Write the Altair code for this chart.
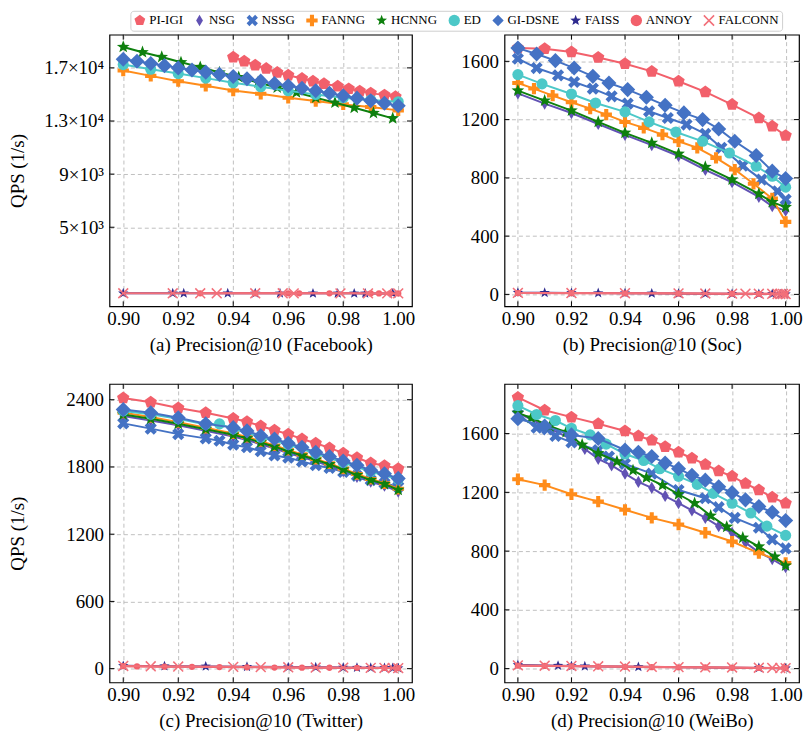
import math
import altair as alt
import pandas as pd

# ---------------- legend / styling ----------------
METHODS = ["PI-IGI", "NSG", "NSSG", "FANNG", "HCNNG", "ED", "GI-DSNE", "FAISS", "ANNOY", "FALCONN"]
COLORS = ["#F2606B", "#6152B4", "#4472C4", "#FF8C1A", "#0E800E", "#4CC8C8", "#4472C4", "#2E2A8E", "#F2606B", "#F2707A"]

XTICKS = [0.90, 0.92, 0.94, 0.96, 0.98, 1.00]

# ---------------- (a) Facebook ----------------
FB_PIIGI_P = [0.940, 0.944, 0.948, 0.952, 0.956, 0.960, 0.965, 0.969, 0.973, 0.978, 0.982, 0.986, 0.990, 0.995, 0.999]
FB_PIIGI_Q = [17800, 17500, 17200, 16950, 16650, 16450, 16200, 16000, 15800, 15620, 15420, 15250, 15100, 14950, 14820]
FB_GIDSNE_P = [0.900, 0.905, 0.910, 0.915, 0.920, 0.925, 0.930, 0.935, 0.940, 0.945, 0.950, 0.955, 0.960, 0.965, 0.970, 0.975, 0.980, 0.985, 0.990, 0.995, 1.000]
FB_GIDSNE_Q = [17650, 17500, 17330, 17170, 17000, 16840, 16680, 16510, 16350, 16180, 16000, 15830, 15650, 15470, 15280, 15090, 14900, 14720, 14530, 14340, 14150]
FB_ED_P = [0.90, 0.91, 0.92, 0.93, 0.94, 0.95, 0.96, 0.97, 0.98, 0.99, 1.00]
FB_ED_Q = [17250, 16900, 16570, 16230, 15880, 15580, 15280, 15000, 14750, 14580, 14450]
FB_FANNG_P = [0.90, 0.91, 0.92, 0.93, 0.94, 0.95, 0.96, 0.97, 0.98, 0.99, 1.00]
FB_FANNG_Q = [16800, 16400, 16000, 15650, 15300, 15050, 14750, 14500, 14250, 14050, 13800]
FB_HCNNG_P = [0.900, 0.907, 0.914, 0.921, 0.928, 0.935, 0.942, 0.949, 0.956, 0.963, 0.970, 0.977, 0.984, 0.991, 0.998]
FB_HCNNG_Q = [18575, 18180, 17820, 17420, 17060, 16650, 16300, 15900, 15520, 15150, 14760, 14380, 14000, 13600, 13200]
FB_FAISS_P = [0.900, 0.918, 0.922, 0.938, 0.948, 0.957, 0.969, 0.978, 0.984, 0.988, 0.998]
FB_FAISS_Q = [30, 28, 28, 26, 25, 24, 22, 21, 20, 19, 18]
FB_ANNOY_P = [0.928, 0.948, 0.960, 0.964, 0.975, 0.990, 0.993, 0.997, 1.000]
FB_ANNOY_Q = [27, 25, 24, 23, 22, 20, 19, 18, 18]
FB_FALCONN_P = [0.900, 0.918, 0.928, 0.934, 0.948, 0.958, 0.962, 0.979, 0.989, 0.996, 1.000]
FB_FALCONN_Q = [30, 28, 27, 26, 25, 24, 23, 21, 20, 19, 18]

# ---------------- (b) Soc ----------------
SOC_PIIGI_P = [0.90, 0.91, 0.92, 0.93, 0.94, 0.95, 0.96, 0.97, 0.98, 0.99, 0.995, 1.00]
SOC_PIIGI_Q = [1691, 1687, 1664, 1627, 1584, 1531, 1463, 1390, 1303, 1211, 1154, 1090]
SOC_NSG_P = [0.90, 0.91, 0.92, 0.93, 0.94, 0.95, 0.96, 0.97, 0.98, 0.99, 0.995, 1.00]
SOC_NSG_Q = [1380, 1310, 1245, 1170, 1095, 1025, 950, 855, 770, 670, 605, 575]
SOC_NSSG_P = [0.900, 0.907, 0.915, 0.921, 0.928, 0.935, 0.941, 0.949, 0.956, 0.963, 0.970, 0.976, 0.984, 0.991, 0.997, 1.000]
SOC_NSSG_Q = [1618, 1554, 1504, 1458, 1413, 1360, 1310, 1257, 1211, 1166, 1102, 1006, 884, 788, 708, 651]
SOC_FANNG_P = [0.900, 0.906, 0.913, 0.920, 0.927, 0.933, 0.940, 0.947, 0.954, 0.960, 0.967, 0.974, 0.981, 0.988, 0.995, 1.000]
SOC_FANNG_Q = [1451, 1413, 1365, 1319, 1275, 1234, 1184, 1143, 1097, 1051, 1006, 937, 857, 759, 658, 498]
SOC_HCNNG_P = [0.90, 0.91, 0.92, 0.93, 0.94, 0.95, 0.96, 0.97, 0.98, 0.99, 0.995, 1.00]
SOC_HCNNG_Q = [1399, 1330, 1262, 1184, 1109, 1040, 965, 875, 788, 690, 633, 599]
SOC_ED_P = [0.900, 0.909, 0.920, 0.929, 0.940, 0.949, 0.959, 0.969, 0.979, 0.989, 0.995, 1.000]
SOC_ED_Q = [1509, 1445, 1376, 1314, 1253, 1184, 1115, 1051, 971, 880, 811, 736]
SOC_GIDSNE_P = [0.900, 0.907, 0.914, 0.921, 0.928, 0.934, 0.941, 0.948, 0.955, 0.962, 0.969, 0.975, 0.981, 0.989, 0.995, 1.000]
SOC_GIDSNE_Q = [1691, 1650, 1605, 1554, 1497, 1451, 1406, 1353, 1298, 1246, 1200, 1136, 1051, 953, 846, 795]
SOC_FAISS_P = [0.90, 0.91, 0.92, 0.93, 0.94, 0.95, 0.96, 0.97, 0.98, 0.99, 0.995, 0.998, 1.00]
SOC_FAISS_Q = [12, 11, 10, 9, 8, 7, 6, 5, 4, 3, 3, 2, 2]
SOC_ANNOY_P = [0.90, 0.92, 0.94, 0.96, 0.98, 0.99, 1.00]
SOC_ANNOY_Q = [9, 8, 7, 6, 5, 4, 3]
SOC_FALCONN_P = [0.90, 0.92, 0.94, 0.96, 0.97, 0.98, 0.985, 0.99, 0.995, 0.997, 0.998, 0.999, 1.00]
SOC_FALCONN_Q = [10, 9, 8, 7, 6, 5, 5, 4, 4, 3, 3, 3, 2]

# ---------------- (c) Twitter ----------------
TW_P17 = [0.90, 0.91, 0.92, 0.93, 0.94, 0.945, 0.95, 0.955, 0.96, 0.965, 0.97, 0.975, 0.98, 0.985, 0.99, 0.995, 1.00]
TW_PIIGI_Q = [2415, 2377, 2327, 2283, 2233, 2204, 2166, 2128, 2093, 2049, 2011, 1970, 1923, 1882, 1835, 1810, 1785]
TW_NSG_Q = [2255, 2215, 2172, 2122, 2072, 2040, 2003, 1965, 1925, 1888, 1850, 1808, 1762, 1712, 1668, 1633, 1580]
TW_NSSG_P = [0.90, 0.91, 0.92, 0.93, 0.935, 0.94, 0.945, 0.95, 0.955, 0.96, 0.965, 0.97, 0.975, 0.98, 0.985, 0.99, 0.995, 1.00]
TW_NSSG_Q = [2189, 2142, 2093, 2055, 2034, 1999, 1976, 1940, 1902, 1882, 1850, 1815, 1791, 1756, 1721, 1683, 1654, 1624]
TW_FANNG_Q = [2285, 2245, 2200, 2150, 2100, 2068, 2030, 1992, 1952, 1912, 1872, 1832, 1785, 1737, 1693, 1655, 1605]
TW_HCNNG_Q = [2268, 2230, 2186, 2137, 2087, 2055, 2019, 1981, 1940, 1902, 1864, 1823, 1777, 1727, 1683, 1648, 1595]
TW_ED_P = [0.90, 0.91, 0.92, 0.93, 0.935, 0.94, 0.95, 0.96, 0.97, 0.98, 0.99, 1.00]
TW_ED_Q = [2300, 2270, 2230, 2180, 2185, 2140, 2065, 2000, 1920, 1840, 1760, 1690]
TW_GIDSNE_Q = [2312, 2283, 2239, 2186, 2151, 2122, 2078, 2049, 2011, 1976, 1932, 1894, 1853, 1815, 1771, 1740, 1698]
TW_FAISS_P = [0.90, 0.915, 0.93, 0.945, 0.96, 0.97, 0.98, 0.985, 0.99, 0.995, 0.998, 1.00]
TW_FAISS_Q = [25, 22, 20, 17, 14, 12, 10, 9, 8, 7, 6, 5]
TW_ANNOY_P = [0.90, 0.905, 0.915, 0.925, 0.935, 0.945, 0.955, 0.965, 0.975, 0.985, 0.995, 1.00]
TW_ANNOY_Q = [22, 20, 18, 16, 14, 12, 10, 9, 8, 7, 6, 5]
TW_FALCONN_P = [0.90, 0.91, 0.92, 0.94, 0.95, 0.96, 0.97, 0.98, 0.99, 0.995, 0.998, 1.00]
TW_FALCONN_Q = [24, 21, 19, 16, 14, 12, 10, 9, 7, 6, 5, 5]

# ---------------- (d) WeiBo ----------------
WB_PIIGI_P = [0.90, 0.91, 0.92, 0.93, 0.94, 0.945, 0.95, 0.955, 0.96, 0.965, 0.97, 0.975, 0.98, 0.985, 0.99, 0.995, 1.00]
WB_PIIGI_Q = [1846, 1759, 1712, 1667, 1618, 1584, 1555, 1511, 1473, 1432, 1390, 1345, 1309, 1260, 1216, 1166, 1126]
WB_NSG_P = [0.900, 0.910, 0.920, 0.925, 0.930, 0.935, 0.940, 0.945, 0.950, 0.955, 0.960, 0.965, 0.970, 0.975, 0.980, 0.985, 0.990, 0.995, 1.000]
WB_NSG_Q = [1741, 1651, 1562, 1495, 1428, 1383, 1327, 1271, 1231, 1175, 1126, 1077, 1026, 970, 925, 858, 791, 746, 690]
WB_NSSG_P = [0.900, 0.907, 0.911, 0.914, 0.920, 0.930, 0.934, 0.940, 0.950, 0.960, 0.970, 0.975, 0.981, 0.990, 0.995, 1.000]
WB_NSSG_Q = [1730, 1640, 1629, 1584, 1540, 1488, 1444, 1394, 1327, 1216, 1160, 1099, 1026, 959, 880, 818]
WB_FANNG_P = [0.90, 0.91, 0.92, 0.93, 0.94, 0.95, 0.96, 0.97, 0.98, 0.99, 1.00]
WB_FANNG_Q = [1289, 1249, 1187, 1137, 1081, 1026, 981, 925, 865, 786, 719]
WB_HCNNG_P = [0.900, 0.905, 0.912, 0.918, 0.924, 0.930, 0.937, 0.943, 0.948, 0.954, 0.960, 0.966, 0.972, 0.978, 0.984, 0.990, 0.996, 1.000]
WB_HCNNG_Q = [1741, 1707, 1650, 1610, 1524, 1466, 1410, 1350, 1300, 1249, 1187, 1126, 1041, 965, 891, 831, 762, 701]
WB_ED_P = [0.900, 0.907, 0.914, 0.920, 0.927, 0.933, 0.940, 0.947, 0.953, 0.960, 0.967, 0.973, 0.980, 0.987, 0.993, 1.000]
WB_ED_Q = [1790, 1730, 1689, 1636, 1591, 1528, 1461, 1417, 1361, 1309, 1254, 1193, 1126, 1059, 970, 907]
WB_GIDSNE_P = [0.900, 0.910, 0.920, 0.930, 0.940, 0.945, 0.950, 0.955, 0.960, 0.965, 0.970, 0.975, 0.980, 0.985, 0.990, 0.995, 1.000]
WB_GIDSNE_Q = [1701, 1651, 1591, 1566, 1488, 1473, 1444, 1399, 1361, 1316, 1283, 1238, 1198, 1149, 1104, 1064, 1008]
WB_FAISS_P = [0.90, 0.915, 0.92, 0.925, 0.945, 0.99, 1.00]
WB_FAISS_Q = [25, 20, 18, 16, 12, 5, 3]
WB_ANNOY_P = [0.90, 0.91, 0.92, 0.93, 0.94, 0.95, 0.96, 0.97, 0.98, 0.99, 1.00]
WB_ANNOY_Q = [20, 18, 16, 14, 12, 10, 9, 8, 6, 5, 3]
WB_FALCONN_P = [0.90, 0.91, 0.92, 0.93, 0.94, 0.95, 0.96, 0.97, 0.98, 0.99, 0.995, 0.998, 1.00]
WB_FALCONN_Q = [22, 20, 18, 16, 14, 12, 10, 9, 8, 6, 5, 4, 3]

PANEL_A = {"PI-IGI": (FB_PIIGI_P, FB_PIIGI_Q), "FANNG": (FB_FANNG_P, FB_FANNG_Q),
           "HCNNG": (FB_HCNNG_P, FB_HCNNG_Q), "ED": (FB_ED_P, FB_ED_Q),
           "GI-DSNE": (FB_GIDSNE_P, FB_GIDSNE_Q), "FAISS": (FB_FAISS_P, FB_FAISS_Q),
           "ANNOY": (FB_ANNOY_P, FB_ANNOY_Q), "FALCONN": (FB_FALCONN_P, FB_FALCONN_Q)}
PANEL_B = {"PI-IGI": (SOC_PIIGI_P, SOC_PIIGI_Q), "NSG": (SOC_NSG_P, SOC_NSG_Q),
           "NSSG": (SOC_NSSG_P, SOC_NSSG_Q), "FANNG": (SOC_FANNG_P, SOC_FANNG_Q),
           "HCNNG": (SOC_HCNNG_P, SOC_HCNNG_Q), "ED": (SOC_ED_P, SOC_ED_Q),
           "GI-DSNE": (SOC_GIDSNE_P, SOC_GIDSNE_Q), "FAISS": (SOC_FAISS_P, SOC_FAISS_Q),
           "ANNOY": (SOC_ANNOY_P, SOC_ANNOY_Q), "FALCONN": (SOC_FALCONN_P, SOC_FALCONN_Q)}
PANEL_C = {"PI-IGI": (TW_P17, TW_PIIGI_Q), "NSG": (TW_P17, TW_NSG_Q),
           "NSSG": (TW_NSSG_P, TW_NSSG_Q), "FANNG": (TW_P17, TW_FANNG_Q),
           "HCNNG": (TW_P17, TW_HCNNG_Q), "ED": (TW_ED_P, TW_ED_Q),
           "GI-DSNE": (TW_P17, TW_GIDSNE_Q), "FAISS": (TW_FAISS_P, TW_FAISS_Q),
           "ANNOY": (TW_ANNOY_P, TW_ANNOY_Q), "FALCONN": (TW_FALCONN_P, TW_FALCONN_Q)}
PANEL_D = {"PI-IGI": (WB_PIIGI_P, WB_PIIGI_Q), "NSG": (WB_NSG_P, WB_NSG_Q),
           "NSSG": (WB_NSSG_P, WB_NSSG_Q), "FANNG": (WB_FANNG_P, WB_FANNG_Q),
           "HCNNG": (WB_HCNNG_P, WB_HCNNG_Q), "ED": (WB_ED_P, WB_ED_Q),
           "GI-DSNE": (WB_GIDSNE_P, WB_GIDSNE_Q), "FAISS": (WB_FAISS_P, WB_FAISS_Q),
           "ANNOY": (WB_ANNOY_P, WB_ANNOY_Q), "FALCONN": (WB_FALCONN_P, WB_FALCONN_Q)}


# ---------------- marker shapes ----------------
def poly(pts):
    return "M" + "L".join(f"{x:.3f},{y:.3f}" for x, y in pts) + "Z"


def regular(n, rot=-90):
    return [(math.cos(math.radians(rot + 360 / n * k)), math.sin(math.radians(rot + 360 / n * k))) for k in range(n)]


def star_pts(inner=0.42):
    pts = []
    for k in range(10):
        r = 1 if k % 2 == 0 else inner
        a = math.radians(-90 + 36 * k)
        pts.append((r * math.cos(a), r * math.sin(a)))
    return pts


def x_pts(a):
    return [(-1, -1 + a), (-1 + a, -1), (0, -a), (1 - a, -1), (1, -1 + a), (a, 0),
            (1, 1 - a), (1 - a, 1), (0, a), (-1 + a, 1), (-1, 1 - a), (-a, 0)]


def plus_pts(t):
    return [(-t, -1), (t, -1), (t, -t), (1, -t), (1, t), (t, t), (t, 1), (-t, 1),
            (-t, t), (-1, t), (-1, -t), (-t, -t)]


SHAPES = [poly(regular(5)), "M0,-1L0.6,0L0,1L-0.6,0Z", poly(x_pts(0.5)), poly(plus_pts(0.36)),
          poly(star_pts()), "circle", "M0,-1L1,0L0,1L-1,0Z", poly(star_pts()), "circle", poly(x_pts(0.2))]
SIZES = [170, 150, 150, 130, 180, 125, 230, 120, 40, 120]

FONT = "Liberation Serif"
W_L = 304
W_R = 296
H_TOP = 273
H_BOT = 300
TICKLEN = 5

LEGEND = alt.Legend(orient="none", legendX=21, legendY=-24, direction="horizontal", columns=10,
                    title=None, labelFont=FONT, labelFontSize=13, labelColor="black",
                    symbolSize=130, symbolStrokeWidth=0, strokeColor="#cfcfcf", fillColor="white",
                    padding=3, cornerRadius=3, columnPadding=10, labelOffset=3)
COLOR = alt.Color("method:N", scale=alt.Scale(domain=METHODS, range=COLORS), legend=LEGEND)
SHAPE = alt.Shape("method:N", scale=alt.Scale(domain=METHODS, range=SHAPES), legend=LEGEND)


def panel(data, ydomain, yticks, xtitle, width, height, ytitle=None, label_expr=None, yext=48):
    rows = []
    for m, (ps, qs) in data.items():
        for p, q in zip(ps, qs):
            rows.append({"method": m, "p": p, "qps": q})
    df = pd.DataFrame(rows)

    x = alt.X("p:Q", scale=alt.Scale(domain=[0.895, 1.005], nice=False, zero=False),
              axis=alt.Axis(values=XTICKS, format=".2f", title=xtitle, grid=True, labelFlush=False,
                            labelPadding=3, titlePadding=7, minExtent=22, maxExtent=22))
    yaxis_kw = dict(values=yticks, format="d", grid=True, labelPadding=6, minExtent=yext, maxExtent=yext,
                    titlePadding=10, labelFlush=False)
    yaxis_kw["title"] = ytitle if ytitle else None
    if label_expr:
        yaxis_kw["labelExpr"] = label_expr
    y = alt.Y("qps:Q", scale=alt.Scale(domain=ydomain, nice=False, zero=False), axis=alt.Axis(**yaxis_kw))

    base = alt.Chart(df)
    layers = []
    for i, m in enumerate(METHODS):
        if m not in data:
            continue
        sub = base.transform_filter(alt.datum.method == m)
        layers.append(sub.mark_line(color=COLORS[i], strokeWidth=2).encode(x=x, y=y))
        layers.append(sub.mark_point(filled=True, opacity=1, size=SIZES[i], strokeWidth=0)
                      .encode(x=x, y=y, color=COLOR, shape=SHAPE))

    xt = pd.DataFrame({"p": XTICKS})
    yt = pd.DataFrame({"qps": yticks})
    layers.append(alt.Chart(xt).mark_rule(color="black", strokeWidth=1)
                  .encode(x=x, y=alt.value(height), y2=alt.value(height - TICKLEN)))
    layers.append(alt.Chart(xt).mark_rule(color="black", strokeWidth=1)
                  .encode(x=x, y=alt.value(0), y2=alt.value(TICKLEN)))
    layers.append(alt.Chart(yt).mark_rule(color="black", strokeWidth=1)
                  .encode(y=y, x=alt.value(0), x2=alt.value(TICKLEN)))
    layers.append(alt.Chart(yt).mark_rule(color="black", strokeWidth=1)
                  .encode(y=y, x=alt.value(width - TICKLEN), x2=alt.value(width)))
    return alt.layer(*layers).properties(width=width, height=height)


A_EXPR = ("datum.value == 17000 ? '1.7\u00d710\u2074' : datum.value == 13000 ? '1.3\u00d710\u2074' : "
          "datum.value == 9000 ? '9\u00d710\u00b3' : '5\u00d710\u00b3'")

pa = panel(PANEL_A, [-955, 19500], [5000, 9000, 13000, 17000], "(a) Precision@10 (Facebook)",
           W_L, H_TOP, ytitle="QPS (1/s)", label_expr=A_EXPR, yext=72)
pb = panel(PANEL_B, [-82, 1783], [0, 400, 800, 1200, 1600], "(b) Precision@10 (Soc)", W_R, H_TOP)
pc = panel(PANEL_C, [-123, 2541], [0, 600, 1200, 1800, 2400], "(c) Precision@10 (Twitter)",
           W_L, H_BOT, ytitle="QPS (1/s)", yext=72)
pd_ = panel(PANEL_D, [-94, 1938], [0, 400, 800, 1200, 1600], "(d) Precision@10 (WeiBo)", W_R, H_BOT)

chart = alt.vconcat(
    alt.hconcat(pa, pb, spacing=40),
    alt.hconcat(pc, pd_, spacing=40),
    spacing=27,
).properties(
    padding={"left": 0, "top": 0, "right": 0, "bottom": 0}
).configure(
    font=FONT
).configure_view(
    stroke="black", strokeWidth=1.2
).configure_axis(
    labelFont=FONT, titleFont=FONT, labelFontSize=19, titleFontSize=19, labelColor="black",
    titleColor="black", titleFontWeight="normal", tickSize=0, domain=False,
    gridColor="#b8b8b8", gridDash=[4, 3], gridWidth=0.9
)

chart.save("out.html", embed_options={"renderer": "svg", "actions": False})
